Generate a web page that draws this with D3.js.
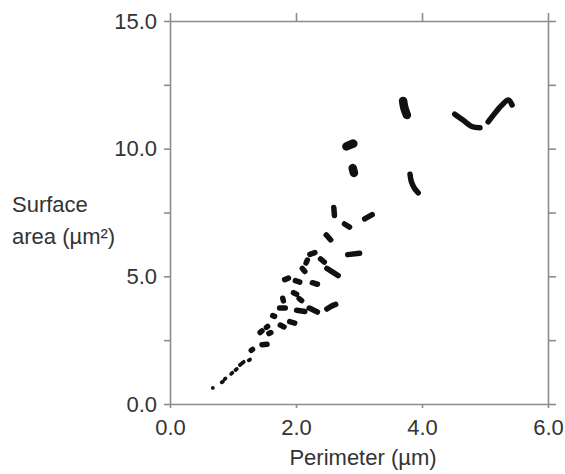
<!DOCTYPE html>
<html>
<head>
<meta charset="utf-8">
<script src="https://cdn.jsdelivr.net/npm/d3@7"></script>
<style>
  body { margin: 0; background: #fff; }
  svg text { font-family: "Liberation Sans", Arial, sans-serif; fill: #333; }
</style>
</head>
<body>
<div id="chart"></div>
<script>
// axis ticks
var xTicks = [0, 2, 4, 6];
var yTicks = [0, 2.5, 5, 7.5, 10, 12.5, 15];
var yLabelTicks = [0, 5, 10, 15];

// tiny objects near the origin, [perimeter (µm), surface area (µm²)]
var specks = [
    [[0.68, 0.63], [0.68, 0.63]],
    [[0.82, 0.85], [0.84, 0.88]],
    [[0.87, 0.98], [0.88, 1.00]],
    [[0.97, 1.18], [0.99, 1.22]],
    [[1.04, 1.33], [1.06, 1.37]],
    [[1.11, 1.53], [1.17, 1.65]],
    [[1.25, 1.71], [1.27, 1.74]]
];

// short tracks, each a list of [perimeter (µm), surface area (µm²)]
var tracks = [
    [[1.29, 2.10], [1.31, 2.14]],
    [[1.46, 2.32], [1.54, 2.34]],
    [[1.43, 2.80], [1.46, 2.86]],
    [[1.53, 3.00], [1.55, 3.04]],
    [[1.57, 2.76], [1.60, 2.80]],
    [[1.63, 3.46], [1.66, 3.43]],
    [[1.75, 3.09], [1.81, 3.02]],
    [[1.90, 3.23], [1.98, 3.17]],
    [[1.74, 3.76], [1.83, 3.76]],
    [[2.01, 3.67], [2.14, 3.62]],
    [[2.21, 3.76], [2.34, 3.60]],
    [[2.49, 3.72], [2.56, 3.83], [2.63, 3.90]],
    [[1.79, 4.14], [1.80, 4.04]],
    [[1.96, 4.36], [2.01, 4.30]],
    [[2.05, 4.13], [2.09, 4.05]],
    [[1.82, 4.87], [1.88, 4.93]],
    [[1.99, 4.83], [2.06, 4.77]],
    [[2.26, 4.75], [2.34, 4.69]],
    [[2.10, 5.31], [2.14, 5.19]],
    [[2.16, 5.52], [2.18, 5.64]],
    [[2.22, 5.86], [2.30, 5.93]],
    [[2.39, 5.68], [2.45, 5.56]],
    [[2.49, 5.31], [2.67, 5.03]],
    [[2.82, 5.85], [3.01, 5.90]],
    [[2.48, 6.62], [2.55, 6.43]],
    [[2.60, 7.70], [2.61, 7.38]],
    [[2.77, 7.05], [2.85, 6.93]],
    [[3.09, 7.25], [3.21, 7.42]],
    [[3.81, 9.00], [3.83, 8.72], [3.88, 8.45], [3.94, 8.27]],
    [[4.52, 11.35], [4.65, 11.12], [4.79, 10.87], [4.92, 10.82]],
    [[5.05, 11.05], [5.16, 11.40], [5.27, 11.71], [5.37, 11.91], [5.43, 11.71]]
];

// larger, thicker objects
var blobs = [
    [[2.80, 10.09], [2.91, 10.20]],
    [[2.90, 9.24], [2.92, 9.05]],
    [[3.70, 11.87], [3.72, 11.60], [3.76, 11.32]]
];

var width = 565, height = 474;
var plotLeft = 170, plotRight = 548, plotTop = 21, plotBottom = 404;
var fontSize = 22;

var svg = d3.select('#chart').append('svg')
    .attr('width', width)
    .attr('height', height);

var x = d3.scaleLinear().domain([0, 6]).range([plotLeft, plotRight]);
var y = d3.scaleLinear().domain([0, 15]).range([plotBottom, plotTop]);
var fmt = d3.format('.1f');

function styleAxis(g) {
    g.selectAll('path, line').attr('stroke', '#8c8c8c').attr('stroke-width', 1.6);
    g.selectAll('text').attr('font-size', fontSize).attr('fill', '#333');
}

// left axis with labels
svg.append('g')
    .attr('transform', `translate(${plotLeft},0)`)
    .call(d3.axisLeft(y).tickValues(yTicks).tickSize(6).tickSizeOuter(0).tickPadding(7)
        .tickFormat(d => yLabelTicks.includes(d) ? fmt(d) : ''))
    .call(styleAxis);

// right axis
svg.append('g')
    .attr('transform', `translate(${plotRight},0)`)
    .call(d3.axisRight(y).tickValues(yTicks).tickSize(8).tickSizeOuter(0).tickFormat(''))
    .call(styleAxis);

// top axis
svg.append('g')
    .attr('transform', `translate(0,${plotTop})`)
    .call(d3.axisTop(x).tickValues(xTicks).tickSize(8).tickSizeOuter(0).tickFormat(''))
    .call(styleAxis);

// bottom axis with labels
svg.append('g')
    .attr('transform', `translate(0,${plotBottom})`)
    .call(d3.axisBottom(x).tickValues(xTicks).tickSize(4).tickSizeOuter(0).tickPadding(11)
        .tickFormat(fmt))
    .call(styleAxis);

svg.selectAll('.domain').attr('fill', 'none');

// axis titles
svg.append('text')
    .attr('x', 363)
    .attr('y', 465)
    .attr('text-anchor', 'middle')
    .attr('font-size', fontSize)
    .text('Perimeter (µm)');

svg.append('text')
    .attr('x', 12)
    .attr('y', 212)
    .attr('font-size', fontSize)
    .text('Surface');

svg.append('text')
    .attr('x', 12)
    .attr('y', 244)
    .attr('font-size', fontSize)
    .text('area (µm²)');

// the objects
var line = d3.line()
    .x(d => x(d[0]))
    .y(d => y(d[1]))
    .curve(d3.curveCatmullRom);

function drawTracks(data, strokeWidth) {
    svg.append('g').selectAll('path')
        .data(data)
        .enter()
        .append('path')
            .attr('d', line)
            .attr('fill', 'none')
            .attr('stroke', '#111')
            .attr('stroke-width', strokeWidth)
            .attr('stroke-linecap', 'round')
            .attr('stroke-linejoin', 'round');
}

drawTracks(specks, 3.8);
drawTracks(tracks, 5.5);
drawTracks(blobs, 8.5);
</script>
</body>
</html>
